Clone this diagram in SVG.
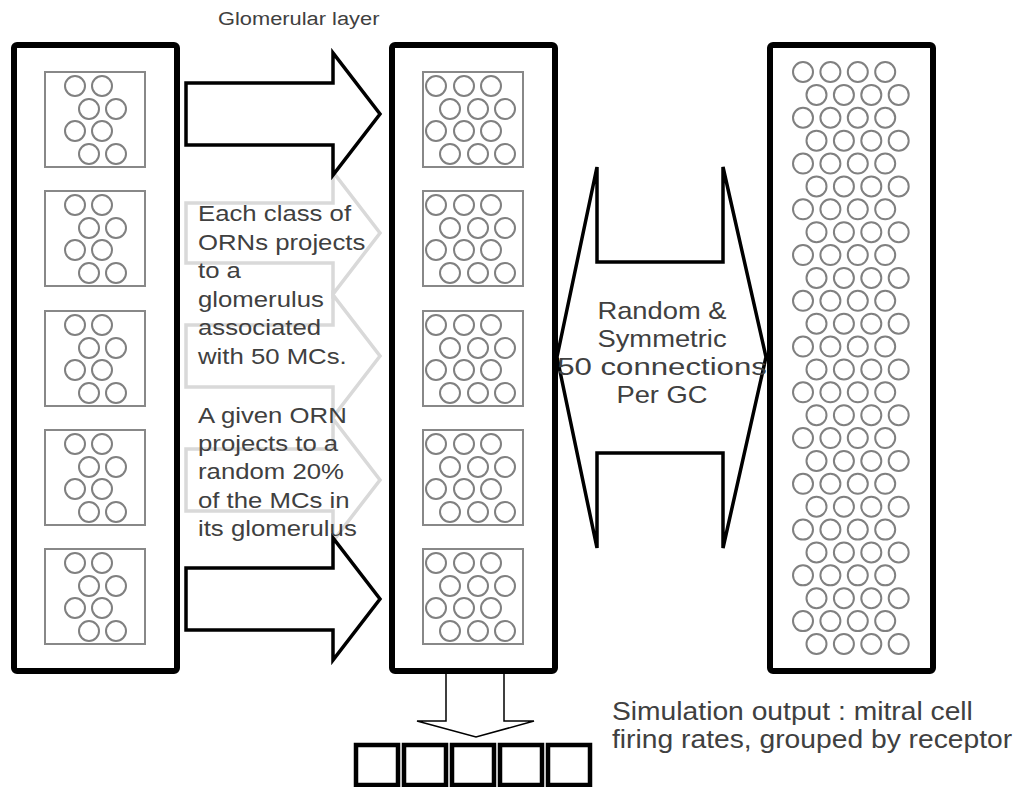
<svg xmlns="http://www.w3.org/2000/svg" xmlns:xlink="http://www.w3.org/1999/xlink" width="1026" height="787" viewBox="0 0 1026 787">
<style>
.col{fill:#fff;stroke:#000;stroke-width:6}
.box{fill:none;stroke:#888;stroke-width:2}
.c{fill:none;stroke:#808080;stroke-width:2}
.arr{fill:#fff;stroke:#000;stroke-width:3.5}
.garr{fill:none;stroke:#d9d9d9;stroke-width:3.5}
.thin{fill:none;stroke:#000;stroke-width:1.5}
.out{fill:#fff;stroke:#000;stroke-width:4.5}
.t{font-family:"Liberation Sans",Arial,sans-serif;fill:#404040}
</style>
<defs>
<g id="lglom">
<rect class="box" x="0" y="0" width="100" height="95"/>
<circle class="c" cx="30" cy="14" r="10"/><circle class="c" cx="57" cy="14" r="10"/>
<circle class="c" cx="44" cy="37" r="10"/><circle class="c" cx="71" cy="37" r="10"/>
<circle class="c" cx="30" cy="59" r="10"/><circle class="c" cx="57" cy="59" r="10"/>
<circle class="c" cx="44" cy="82" r="10"/><circle class="c" cx="71" cy="82" r="10"/>
</g>
<g id="mglom">
<rect class="box" x="0" y="0" width="100" height="95"/>
<circle class="c" cx="13" cy="14" r="10"/><circle class="c" cx="41" cy="14" r="10"/><circle class="c" cx="68" cy="14" r="10"/>
<circle class="c" cx="27" cy="37" r="10"/><circle class="c" cx="55" cy="37" r="10"/><circle class="c" cx="82" cy="37" r="10"/>
<circle class="c" cx="13" cy="59" r="10"/><circle class="c" cx="41" cy="59" r="10"/><circle class="c" cx="68" cy="59" r="10"/>
<circle class="c" cx="27" cy="82" r="10"/><circle class="c" cx="55" cy="82" r="10"/><circle class="c" cx="82" cy="82" r="10"/>
</g>
<g id="row4a">
<circle class="c" cx="803" cy="0" r="10"/><circle class="c" cx="830.4" cy="0" r="10"/><circle class="c" cx="857.8" cy="0" r="10"/><circle class="c" cx="885.2" cy="0" r="10"/>
</g>
<g id="rowpair">
<use xlink:href="#row4a"/>
<use xlink:href="#row4a" transform="translate(13.5,22.88)"/>
</g>
</defs>
<rect width="1026" height="787" fill="#fff"/>

<text class="t" font-size="19" transform="translate(218,25) scale(1.15,1)">Glomerular layer</text>

<g id="receptors">
<rect class="col" x="14" y="45" width="163" height="626" rx="3"/>
<use xlink:href="#lglom" x="45" y="72"/>
<use xlink:href="#lglom" x="45" y="191"/>
<use xlink:href="#lglom" x="45" y="311"/>
<use xlink:href="#lglom" x="45" y="430"/>
<use xlink:href="#lglom" x="45" y="549"/>
</g>

<g id="glomeruli">
<rect class="col" x="392" y="45" width="163" height="626" rx="3"/>
<use xlink:href="#mglom" x="423" y="72"/>
<use xlink:href="#mglom" x="423" y="191"/>
<use xlink:href="#mglom" x="423" y="311"/>
<use xlink:href="#mglom" x="423" y="430"/>
<use xlink:href="#mglom" x="423" y="549"/>
</g>

<g id="granule">
<rect class="col" x="770" y="45" width="163" height="626" rx="3"/>
<g transform="translate(0,72)">
<use xlink:href="#rowpair" y="0"/>
<use xlink:href="#rowpair" y="45.76"/>
<use xlink:href="#rowpair" y="91.52"/>
<use xlink:href="#rowpair" y="137.28"/>
<use xlink:href="#rowpair" y="183.04"/>
<use xlink:href="#rowpair" y="228.8"/>
<use xlink:href="#rowpair" y="274.56"/>
<use xlink:href="#rowpair" y="320.32"/>
<use xlink:href="#rowpair" y="366.08"/>
<use xlink:href="#rowpair" y="411.84"/>
<use xlink:href="#rowpair" y="457.6"/>
<use xlink:href="#rowpair" y="503.36"/>
<use xlink:href="#rowpair" y="549.12"/>
</g>
</g>

<g id="connectors">
<path class="garr" d="M186,203 H333 V172 L380,233 L333,294 V263 H186 Z"/>
<path class="garr" d="M186,325 H333 V295 L380,356 L333,417 V387 H186 Z"/>
<path class="garr" d="M186,449 H333 V419 L380,480 L333,541 V511 H186 Z"/>
<path class="arr" d="M186,83 H333 V53 L380,114 L333,175 V145 H186 Z"/>
<path class="arr" d="M186,568 H333 V538 L380,599 L333,660 V630 H186 Z"/>
<path class="arr" d="M557,357 L597,167 V262 H723 V167 L766,357 L723,548 V453 H597 V548 Z"/>
<path class="thin" d="M446,674 V721 H417 L476,737 L534,721 H504 V674"/>
</g>

<g id="notes" class="t" font-size="22">
<g transform="translate(198,0) scale(1.17,1)">
<text x="0" y="221">Each class of</text>
<text x="0" y="250">ORNs projects</text>
<text x="0" y="278">to a</text>
<text x="0" y="307">glomerulus</text>
<text x="0" y="335">associated</text>
<text x="0" y="364">with 50 MCs.</text>
<text x="0" y="423">A given ORN</text>
<text x="0" y="451">projects to a</text>
<text x="0" y="479">random 20%</text>
<text x="0" y="508">of the MCs in</text>
<text x="0" y="536">its glomerulus</text>
</g>
</g>

<g id="conn-label" class="t" font-size="24">
<g transform="translate(662,0) scale(1.14,1)" text-anchor="middle">
<text x="0" y="319">Random &amp;</text>
<text x="0" y="347">Symmetric</text>
<text x="0" y="375" textLength="184" lengthAdjust="spacingAndGlyphs">50 connections</text>
<text x="0" y="403">Per GC</text>
</g>
</g>

<g id="output">
<rect class="out" x="356" y="745" width="42" height="40"/>
<rect class="out" x="404" y="745" width="42" height="40"/>
<rect class="out" x="452" y="745" width="42" height="40"/>
<rect class="out" x="500" y="745" width="42" height="40"/>
<rect class="out" x="548" y="745" width="42" height="40"/>
</g>

<g id="output-label" class="t" font-size="25">
<g transform="translate(612,0) scale(1.13,1)">
<text x="0" y="720">Simulation output : mitral cell</text>
<text x="0" y="748">firing rates, grouped by receptor</text>
</g>
</g>
</svg>
